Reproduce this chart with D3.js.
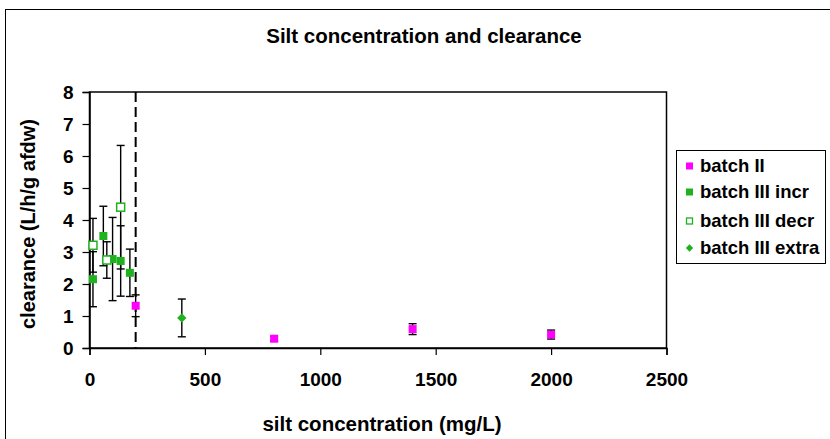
<!DOCTYPE html>
<html><head><meta charset="utf-8">
<script src="https://cdn.jsdelivr.net/npm/d3@7"></script>
<style>body{margin:0;background:#fff}svg{display:block}text{font-family:"Liberation Sans",Arial,sans-serif;font-weight:bold}</style>
</head><body><svg id="c" width="830" height="439"></svg>
<script>
const seriesNames = ["batch II","batch III incr","batch III decr","batch III extra"];
const batchII_x = [200, 800, 1400, 2000];
const batchII_y = [1.32, 0.29, 0.59, 0.42];
const batchII_err = [0.34, 0.07, 0.17, 0.14];
const incr_x = [15, 60, 100, 135, 175];
const incr_y = [2.15, 3.5, 2.78, 2.72, 2.35];
const incr_err = [0.86, 0.93, 1.3, 1.1, 0.74];
const decr_x = [15, 75, 135];
const decr_y = [3.21, 2.75, 4.40];
const decr_err = [0.84, 0.57, 1.93];
const extra_x = [400];
const extra_y = [0.94];
const extra_err = [0.59];
const xTicks = [0, 500, 1000, 1500, 2000, 2500];
const yTicks = [0, 1, 2, 3, 4, 5, 6, 7, 8];
const thresholdX = 200;

const svg = d3.select("#c");
const M = {l: 89.5, r: 666.5, t: 92, b: 348};
const x = d3.scaleLinear().domain([0, 2500]).range([M.l, M.r]);
const y = d3.scaleLinear().domain([0, 8]).range([M.b, M.t]);
const magenta = "#ff00ff", green = "#1fb21f";

// outer chart border
svg.append("rect").attr("x", 5.5).attr("y", 9.5).attr("width", 840).attr("height", 440)
  .attr("fill", "none").attr("stroke", "#000").attr("stroke-width", 1);

// plot area border
svg.append("rect").attr("x", M.l).attr("y", M.t).attr("width", M.r - M.l).attr("height", M.b - M.t)
  .attr("fill", "none").attr("stroke", "#000").attr("stroke-width", 1.5);

// axes
const xa = svg.append("g").attr("transform", `translate(0,${M.b})`)
  .call(d3.axisBottom(x).tickValues(xTicks).tickSize(7).tickPadding(18).tickFormat(d3.format("d")));
const ya = svg.append("g").attr("transform", `translate(${M.l},0)`)
  .call(d3.axisLeft(y).tickValues(yTicks).tickSize(7).tickPadding(9).tickFormat(d3.format("d")));
[xa, ya].forEach(a => {
  a.select(".domain").attr("stroke", "#000").attr("stroke-width", 1.5);
  a.selectAll(".tick line").attr("stroke", "#000").attr("stroke-width", 1.2);
  a.selectAll("text").attr("font-size", 19).attr("fill", "#000")
   .style("font-family", '"Liberation Sans",Arial,sans-serif').style("font-weight", "bold");
});

// dashed threshold line
svg.append("line").attr("x1", x(thresholdX)).attr("x2", x(thresholdX)).attr("y1", y(8)).attr("y2", y(0))
  .attr("stroke", "#000").attr("stroke-width", 2).attr("stroke-dasharray", "10,5");

// error bars
function errBars(xs, ys, es) {
  const g = svg.append("g").attr("stroke", "#000").attr("stroke-width", 1.4);
  xs.forEach((xv, i) => {
    const cx = x(xv), y1 = y(ys[i] + es[i]), y0 = y(ys[i] - es[i]);
    g.append("line").attr("x1", cx).attr("x2", cx).attr("y1", y1).attr("y2", y0);
    g.append("line").attr("x1", cx - 4).attr("x2", cx + 4).attr("y1", y1).attr("y2", y1);
    g.append("line").attr("x1", cx - 4).attr("x2", cx + 4).attr("y1", y0).attr("y2", y0);
  });
}
errBars(incr_x, incr_y, incr_err);
errBars(decr_x, decr_y, decr_err);
errBars(extra_x, extra_y, extra_err);
errBars(batchII_x, batchII_y, batchII_err);

// markers
const S = 8;
function squares(xs, ys, fill, stroke) {
  svg.append("g").selectAll("rect").data(xs).join("rect")
    .attr("x", (d) => x(d) - S / 2).attr("y", (d, i) => y(ys[i]) - S / 2)
    .attr("width", S).attr("height", S).attr("fill", fill)
    .attr("stroke", stroke).attr("stroke-width", stroke === "none" ? 0 : 1.5);
}
squares(incr_x, incr_y, green, "none");
squares(decr_x, decr_y, "#fff", green);
squares(batchII_x, batchII_y, magenta, "none");
svg.append("g").selectAll("path").data(extra_x).join("path")
  .attr("transform", (d, i) => `translate(${x(d)},${y(extra_y[i])})`)
  .attr("d", d3.symbol(d3.symbolDiamond2, 56)).attr("fill", green);

// title & axis titles
svg.append("text").attr("x", 424).attr("y", 43).attr("text-anchor", "middle").attr("font-size", 20.5)
  .text("Silt concentration and clearance");
svg.append("text").attr("x", 382).attr("y", 431).attr("text-anchor", "middle").attr("font-size", 20.5)
  .text("silt concentration (mg/L)");
svg.append("text").attr("transform", `translate(35,224) rotate(-90)`)
  .attr("text-anchor", "middle").attr("font-size", 20).text("clearance (L/h/g afdw)");

// legend
const lg = svg.append("g");
lg.append("rect").attr("x", 676.5).attr("y", 150.5).attr("width", 149).attr("height", 113)
  .attr("fill", "#fff").attr("stroke", "#000").attr("stroke-width", 1);
const ly = [166, 192, 221, 248];
seriesNames.forEach((n, i) => {
  const cy = ly[i], cx = 689.5;
  if (i === 0 || i === 1) {
    lg.append("rect").attr("x", cx - 3.5).attr("y", cy - 3.5).attr("width", 7).attr("height", 7)
      .attr("fill", i === 0 ? magenta : green);
  } else if (i === 2) {
    lg.append("rect").attr("x", cx - 3).attr("y", cy - 3).attr("width", 6).attr("height", 6)
      .attr("fill", "#fff").attr("stroke", green).attr("stroke-width", 1.3);
  } else {
    lg.append("path").attr("transform", `translate(${cx},${cy})`)
      .attr("d", d3.symbol(d3.symbolDiamond2, 34)).attr("fill", green);
  }
  lg.append("text").attr("x", 700).attr("y", cy + 6).attr("font-size", 18.5).text(n);
});
</script></body></html>
